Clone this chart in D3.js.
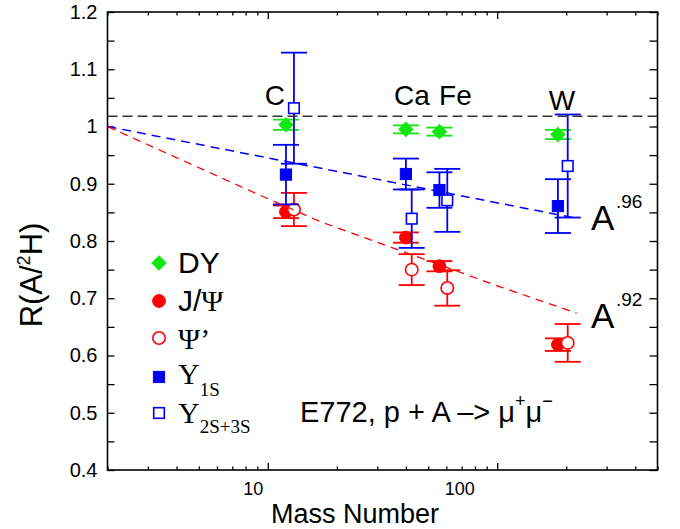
<!DOCTYPE html>
<html><head><meta charset="utf-8">
<script src="https://cdn.jsdelivr.net/npm/d3@7"></script>
<style>body{margin:0;background:#fff} svg{display:block}</style>
</head><body>
<svg id="chart" width="680" height="529"></svg>
<script>
// ---------------- data ----------------
const nuclei   = ["C", "Ca", "Fe", "W"];
const massA    = [12, 40, 56, 184];          // filled markers / DY
const massOpen = [13, 42.4, 60.6, 203];      // open markers (slightly offset)

const dyR     = [1.003, 0.995, 0.991, 0.986];
const dyErr   = [0.009, 0.007, 0.007, 0.008];
const jpsiR   = [0.851, 0.806, 0.756, 0.619];
const jpsiErr = [0.011, 0.009, 0.009, 0.011];
const psiPR   = [0.855, 0.750, 0.718, 0.622];
const psiPErr = [0.029, 0.027, 0.031, 0.033];
const ups1R   = [0.916, 0.917, 0.889, 0.861];
const ups1Err = [0.052, 0.027, 0.031, 0.047];
const ups23R  = [1.032, 0.839, 0.871, 0.931];
const ups23Err= [0.097, 0.051, 0.055, 0.090];

const fitBlueA = [2, 213];
const fitBlueR = [1.0, 0.841];
const fitRedA  = [2, 9.24, 16.9, 103, 222];
const fitRedR  = [1.0, 0.880, 0.834, 0.720, 0.674];
const refR = 1.018;

const yTickValues = [0.4,0.45,0.5,0.55,0.6,0.65,0.7,0.75,0.8,0.85,0.9,0.95,1.0,1.05,1.1,1.15,1.2];
const xMinorTicks = [2,3,4,5,6,7,8,9,20,30,40,50,60,70,80,90,200,300,400,500];
const xMajorTicks = [10, 100];

const legendNames = ["DY", "J/Ψ", "Ψ’", "Υ1S", "Υ2S+3S"];

// ---------------- drawing ----------------
const svg = d3.select("#chart");
const L = 107.5, R = 657.5, T = 12, B = 470;
const x = d3.scaleLog().domain([2, 500]).range([L, R]);
const y = d3.scaleLinear().domain([0.4, 1.2]).range([B, T]);
const SANS = "'Liberation Sans', Arial, Helvetica, sans-serif";
const SERIF = "'Liberation Serif', 'Times New Roman', serif";
const GREEN = "#10e810", RED = "#ff0000", BLUE = "#0000f5";

svg.append("rect").attr("width", 680).attr("height", 529).attr("fill", "#fff");

// axes
function styleAxis(g) {
  g.select(".domain").remove();
  g.selectAll(".tick line").attr("stroke", "#000").attr("stroke-width", 1.3);
  g.selectAll("text").attr("font-family", SANS).attr("fill", "#000");
}
svg.append("g").attr("transform", `translate(${L},0)`)
  .call(d3.axisLeft(y).tickValues(yTickValues).tickSize(-7).tickPadding(10)
    .tickFormat(d => (Math.abs(d * 10 - Math.round(d * 10)) < 1e-6) ? String(+d.toFixed(1)) : ""))
  .call(styleAxis)
  .call(g => g.selectAll("text").attr("font-size", 20));
svg.append("g").attr("transform", `translate(${R},0)`)
  .call(d3.axisRight(y).tickValues(yTickValues).tickSize(-8).tickFormat(""))
  .call(styleAxis);
svg.append("g").attr("transform", `translate(0,${B})`)
  .call(d3.axisBottom(x).tickValues(xMinorTicks).tickSize(-3.5).tickFormat(""))
  .call(styleAxis);
const xLabelShift = [-15, -38];
svg.append("g").attr("transform", `translate(0,${B})`)
  .call(d3.axisBottom(x).tickValues(xMajorTicks).tickSize(-7).tickFormat(d3.format("d")))
  .call(styleAxis)
  .call(g => g.selectAll("text").attr("font-size", 18).attr("y", 25).attr("dy", 0)
    .attr("dx", (d, i) => xLabelShift[i]));
svg.append("g").attr("transform", `translate(0,${T})`)
  .call(d3.axisTop(x).tickValues(xMinorTicks).tickSize(-3.5).tickFormat(""))
  .call(styleAxis);
svg.append("g").attr("transform", `translate(0,${T})`)
  .call(d3.axisTop(x).tickValues(xMajorTicks).tickSize(-7).tickFormat(""))
  .call(styleAxis);

svg.append("rect").attr("x", L).attr("y", T).attr("width", R - L).attr("height", B - T)
  .attr("fill", "none").attr("stroke", "#000").attr("stroke-width", 1.6);

// axis titles
svg.append("text").attr("x", 355).attr("y", 523).attr("text-anchor", "middle")
  .attr("font-family", SANS).attr("font-size", 27).text("Mass Number");
const yl = svg.append("text").attr("transform", "translate(42,275) rotate(-90)")
  .attr("text-anchor", "middle").attr("font-family", SANS).attr("font-size", 31);
yl.append("tspan").text("R(A/");
yl.append("tspan").attr("font-size", 18).attr("dy", -12).text("2");
yl.append("tspan").attr("dy", 12).text("H)");

// series
const series = [
  {name: "DY",   xs: massA,    v: dyR,    e: dyErr,    color: GREEN, shape: "diamond", open: false},
  {name: "jpsi", xs: massA,    v: jpsiR,  e: jpsiErr,  color: RED,   shape: "circle",  open: false},
  {name: "psiP", xs: massOpen, v: psiPR,  e: psiPErr,  color: RED,   shape: "circle",  open: true},
  {name: "ups1", xs: massA,    v: ups1R,  e: ups1Err,  color: BLUE,  shape: "square",  open: false},
  {name: "ups23",xs: massOpen, v: ups23R, e: ups23Err, color: BLUE,  shape: "square",  open: true}
];

function drawMarker(g, cx, cy, s) {
  if (s.shape === "diamond") {
    g.append("rect").attr("x", cx - 5).attr("y", cy - 5).attr("width", 10).attr("height", 10)
      .attr("transform", `rotate(45,${cx},${cy})`).attr("fill", s.color).attr("stroke", s.color).attr("stroke-width", 1);
  } else if (s.shape === "circle") {
    g.append("circle").attr("cx", cx).attr("cy", cy).attr("r", s.open ? 6.2 : 6.4)
      .attr("fill", s.open ? "#fff" : s.color).attr("stroke", s.color).attr("stroke-width", s.open ? 1.6 : 1);
  } else {
    const h = s.open ? 5.3 : 5.6;
    g.append("rect").attr("x", cx - h).attr("y", cy - h).attr("width", 2 * h).attr("height", 2 * h)
      .attr("fill", s.open ? "#fff" : s.color).attr("stroke", s.color).attr("stroke-width", s.open ? 1.6 : 1);
  }
}

const gPts = svg.append("g");
series.forEach(s => {
  const g = gPts.append("g");
  s.v.forEach((v, i) => {
    const cx = x(s.xs[i]);
    const y1 = y(v + s.e[i]), y2 = y(v - s.e[i]);
    g.append("line").attr("x1", cx).attr("x2", cx).attr("y1", y1).attr("y2", y2)
      .attr("stroke", s.color).attr("stroke-width", 1.8);
    [y1, y2].forEach(yy => g.append("line").attr("x1", cx - 13).attr("x2", cx + 13)
      .attr("y1", yy).attr("y2", yy).attr("stroke", s.color).attr("stroke-width", 1.8));
  });
  s.v.forEach((v, i) => drawMarker(g, x(s.xs[i]), y(v), s));
});

// fit lines and reference line
const lineGen = d3.line().x(d => x(d[0])).y(d => y(d[1]));
svg.append("path").attr("d", lineGen(fitBlueA.map((a, i) => [a, fitBlueR[i]])))
  .attr("fill", "none").attr("stroke", BLUE).attr("stroke-width", 1.5).attr("stroke-dasharray", "9,6");
svg.append("path").attr("d", lineGen(fitRedA.map((a, i) => [a, fitRedR[i]])))
  .attr("fill", "none").attr("stroke", RED).attr("stroke-width", 1.3).attr("stroke-dasharray", "8,6");
svg.append("line").attr("x1", L).attr("x2", R).attr("y1", y(refR)).attr("y2", y(refR))
  .attr("stroke", "#333").attr("stroke-width", 1.6).attr("stroke-dasharray", "10,5");

// nucleus labels
const nucDx = [-11, 6, 16, 4];
nuclei.forEach((n, i) => {
  svg.append("text").attr("x", x(massA[i]) + nucDx[i]).attr("y", i === 3 ? 110 : 105)
    .attr("text-anchor", "middle").attr("font-family", SANS).attr("font-size", 28).text(n);
});

// fit labels
[["A", ".96", 230], ["A", ".92", 328]].forEach(([a, p, by]) => {
  svg.append("text").attr("x", 591).attr("y", by).attr("font-family", SANS).attr("font-size", 35).text(a);
  svg.append("text").attr("x", 616).attr("y", by - 22).attr("font-family", SANS).attr("font-size", 19).text(p);
});

// legend
const legY = [263, 301, 338, 377, 413];
const legG = svg.append("g");
series.forEach((s, i) => {
  drawMarker(legG, 159, legY[i], s);
});
function legText(yb) {
  return legG.append("text").attr("x", 178).attr("y", yb).attr("font-size", 30).attr("font-family", SANS);
}
legText(273).text("DY");
let t = legText(311); t.append("tspan").text("J/"); t.append("tspan").attr("font-family", SERIF).text("Ψ");
t = legText(349); t.append("tspan").attr("font-family", SERIF).text("Ψ’");
t = legText(384); t.append("tspan").attr("font-family", SERIF).text("Υ");
t.append("tspan").attr("font-family", SERIF).attr("font-size", 19).attr("dy", 12).text("1S");
t = legText(423); t.append("tspan").attr("font-family", SERIF).text("Υ");
t.append("tspan").attr("font-family", SERIF).attr("font-size", 19).attr("dy", 10).text("2S+3S");

// annotation
const ann = svg.append("text").attr("x", 300).attr("y", 422).attr("font-family", SANS).attr("font-size", 29);
ann.append("tspan").text("E772, p + A –> μ");
ann.append("tspan").attr("font-size", 18).attr("dy", -15).text("+");
ann.append("tspan").attr("dy", 15).text("μ");
ann.append("tspan").attr("font-size", 18).attr("dy", -15).text("−");
</script>
</body></html>
